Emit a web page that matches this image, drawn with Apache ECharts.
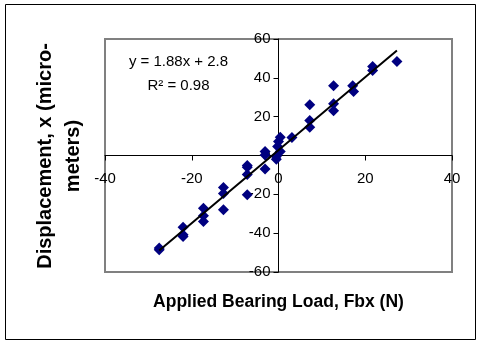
<!DOCTYPE html>
<html>
<head>
<meta charset="utf-8">
<script src="https://cdn.jsdelivr.net/npm/echarts@6/dist/echarts.min.js"></script>
<style>
html,body{margin:0;padding:0;background:#fff;}
#c{width:480px;height:341px;}
</style>
</head>
<body>
<div id="c"></div>
<script>
// Measured data (Applied bearing load, N) vs displacement (micrometers)
var loadX = [-27.5,-27.5,-22,-22,-22,-17.3,-17.3,-17.3,-12.7,-12.7,-12.7,-7.2,-7.2,-7.2,-7.2,-3.1,-3.1,-3.1,-0.5,-0.5,0,-0.2,0.4,0.4,3.1,7.2,7.2,7.2,12.7,12.7,12.7,17.1,17.3,21.7,21.7,27.3];
var dispY = [-47.7,-48.6,-36.9,-40.8,-41.7,-27.2,-31,-34,-16.5,-19.6,-28,-5.1,-6.1,-9.8,-20.2,2.1,0.3,-7,-0.5,-1.9,7.2,4.6,9.4,2.1,9.3,26.1,18,14.6,35.9,26.6,23,35.9,33,45.8,43.8,48.4];
// Trendline end points
var trendX = [-27.5, 27.3];
var trendY = [-48.9, 54.1];
var xTicks = [-40, 20, 40];
var yTicks = [-60, 20, 60];
var eqText = 'y = 1.88x + 2.8';
var r2Text = 'R\u00b2 = 0.98';
var xTitle = 'Applied Bearing Load, Fbx (N)';
var yTitle = 'Displacement, x (micro-\nmeters)';

var pts = loadX.map(function(x, i){ return [x, dispY[i]]; });
var trend = trendX.map(function(x, i){ return [x, trendY[i]]; });
var FF = '"Liberation Sans", Arial, sans-serif';

var G = {left:105, right:28, top:39, bottom:69};
var W = 480, H = 341;
var gw = W - G.left - G.right, gh = H - G.top - G.bottom;

var chart = echarts.init(document.getElementById('c'), null, {renderer:'canvas'});
chart.setOption({
  animation: false,
  backgroundColor: '#fff',
  grid: {left:G.left, right:G.right, top:G.top, bottom:G.bottom, show:true, borderColor:'#808080', borderWidth:2, backgroundColor:'#fff'},
  xAxis: {
    type:'value', min:xTicks[0], max:xTicks[2], interval:xTicks[1],
    position:'bottom', offset:-gh/2,
    axisLine:{onZero:false, lineStyle:{color:'#000', width:1}},
    axisTick:{show:true, length:5, lineStyle:{color:'#000'}},
    axisLabel:{fontSize:15, color:'#000', fontFamily:FF, margin:16},
    splitLine:{show:false}
  },
  yAxis: {
    type:'value', min:yTicks[0], max:yTicks[2], interval:yTicks[1],
    position:'left', offset:-gw/2,
    axisLine:{onZero:false, lineStyle:{color:'#000', width:1}},
    axisTick:{show:true, length:5, lineStyle:{color:'#000'}},
    axisLabel:{fontSize:15, color:'#000', fontFamily:FF, margin:8},
    splitLine:{show:false}
  },
  series: [
    {type:'scatter', data:pts, symbol:'diamond', symbolSize:11, itemStyle:{color:'#000080', opacity:1}, z:2},
    {type:'line', data:trend, symbol:'none', lineStyle:{color:'#000', width:2}, z:3}
  ],
  graphic: [
    {type:'rect', shape:{x:5.5, y:4.5, width:470, height:335}, style:{fill:null, stroke:'#000', lineWidth:1}, z:-1, silent:true},
    {type:'text', x:178.5, y:62, style:{text:eqText, font:'15px '+FF, fill:'#000', textAlign:'center', textVerticalAlign:'middle'}},
    {type:'text', x:178.5, y:86, style:{text:r2Text, font:'15px '+FF, fill:'#000', textAlign:'center', textVerticalAlign:'middle'}},
    {type:'text', x:278.5, y:302, style:{text:xTitle, font:'bold 17.5px '+FF, fill:'#000', textAlign:'center', textVerticalAlign:'middle'}},
    {type:'text', x:59.5, y:156, rotation:Math.PI/2, style:{text:yTitle, font:'bold 20px '+FF, fill:'#000', textAlign:'center', textVerticalAlign:'middle', lineHeight:28}}
  ]
});
</script>
</body>
</html>
